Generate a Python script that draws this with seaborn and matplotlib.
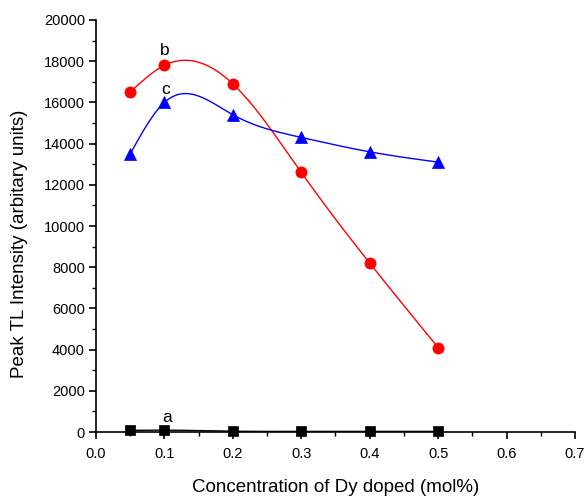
import numpy as np
import pandas as pd
import matplotlib
matplotlib.use("Agg")
import matplotlib.pyplot as plt
import seaborn as sns
from matplotlib.ticker import MultipleLocator

conc = [0.05, 0.1, 0.2, 0.3, 0.4, 0.5]
series_a = [80, 90, 40, 30, 30, 30]
series_b = [16500, 17800, 16900, 12600, 8200, 4100]
series_c = [13500, 16000, 15400, 14300, 13600, 13100]
labels = ["a", "b", "c"]
colors = ["black", "red", "blue"]
markers = ["s", "o", "^"]
sizes = [45, 65, 75]


def natural_spline(x, y, n=200):
    x = np.asarray(x, float)
    y = np.asarray(y, float)
    k = len(x)
    h = np.diff(x)
    A = np.zeros((k, k))
    r = np.zeros(k)
    A[0, 0] = A[-1, -1] = 1
    for i in range(1, k - 1):
        A[i, i - 1] = h[i - 1]
        A[i, i] = 2 * (h[i - 1] + h[i])
        A[i, i + 1] = h[i]
        r[i] = 6 * ((y[i + 1] - y[i]) / h[i] - (y[i] - y[i - 1]) / h[i - 1])
    M = np.linalg.solve(A, r)
    xs = np.linspace(x[0], x[-1], n)
    idx = np.clip(np.searchsorted(x, xs) - 1, 0, k - 2)
    x0, x1 = x[idx], x[idx + 1]
    hh = x1 - x0
    ys = (M[idx] * (x1 - xs) ** 3 / (6 * hh) + M[idx + 1] * (xs - x0) ** 3 / (6 * hh)
          + (y[idx] / hh - M[idx] * hh / 6) * (x1 - xs)
          + (y[idx + 1] / hh - M[idx + 1] * hh / 6) * (xs - x0))
    return xs, ys


sns.set_theme(style="ticks")
plt.rcParams["font.family"] = ["Liberation Sans", "DejaVu Sans"]
plt.rcParams["text.color"] = "black"
plt.rcParams["axes.labelcolor"] = "black"

fig = plt.figure(figsize=(5.85, 4.96), dpi=100)
ax = fig.add_axes([0.1641, 0.129, 0.8188, 0.8307])

for ys_data, lab, col, mk, sz in zip([series_a, series_b, series_c], labels, colors, markers, sizes):
    xs, ys = natural_spline(conc, ys_data)
    sns.lineplot(x=xs, y=ys, ax=ax, color=col, linewidth=1.0, sort=False)
    sns.scatterplot(x=conc, y=ys_data, ax=ax, color=col, marker=mk, s=sz,
                    edgecolor=col, linewidth=0.5, zorder=5, clip_on=False)

ax.text(0.1, 18150, "b", fontsize=12.5, ha="center", va="bottom", color="black")
ax.text(0.102, 16250, "c", fontsize=12.5, ha="center", va="bottom", color="black")
ax.text(0.104, 350, "a", fontsize=12.5, ha="center", va="bottom", color="black")

ax.set_xlim(0, 0.7)
ax.set_ylim(0, 20000)
ax.xaxis.set_major_locator(MultipleLocator(0.1))
ax.xaxis.set_minor_locator(MultipleLocator(0.05))
ax.yaxis.set_major_locator(MultipleLocator(2000))
ax.yaxis.set_minor_locator(MultipleLocator(1000))
ax.xaxis.set_major_formatter(matplotlib.ticker.FormatStrFormatter("%.1f"))
sns.despine(ax=ax)
for s in ["left", "bottom"]:
    ax.spines[s].set_color("black")
    ax.spines[s].set_linewidth(1.2)
ax.tick_params(which="major", direction="out", length=5, width=1.2, colors="black",
               labelsize=10.5, labelcolor="black")
ax.tick_params(axis="x", which="major", pad=6)
ax.tick_params(axis="y", which="major", pad=3)
ax.tick_params(which="minor", direction="out", length=3, width=1.0, colors="black")
ax.set_xlabel("Concentration of Dy doped (mol%)", fontsize=13.5, color="black")
ax.set_ylabel("Peak TL Intensity (arbitary units)", fontsize=13.5, color="black")
ax.xaxis.set_label_coords(0.501, -0.115)
ax.yaxis.set_label_coords(-0.143, 0.456)

fig.savefig("out.png", dpi=100, facecolor="white")
